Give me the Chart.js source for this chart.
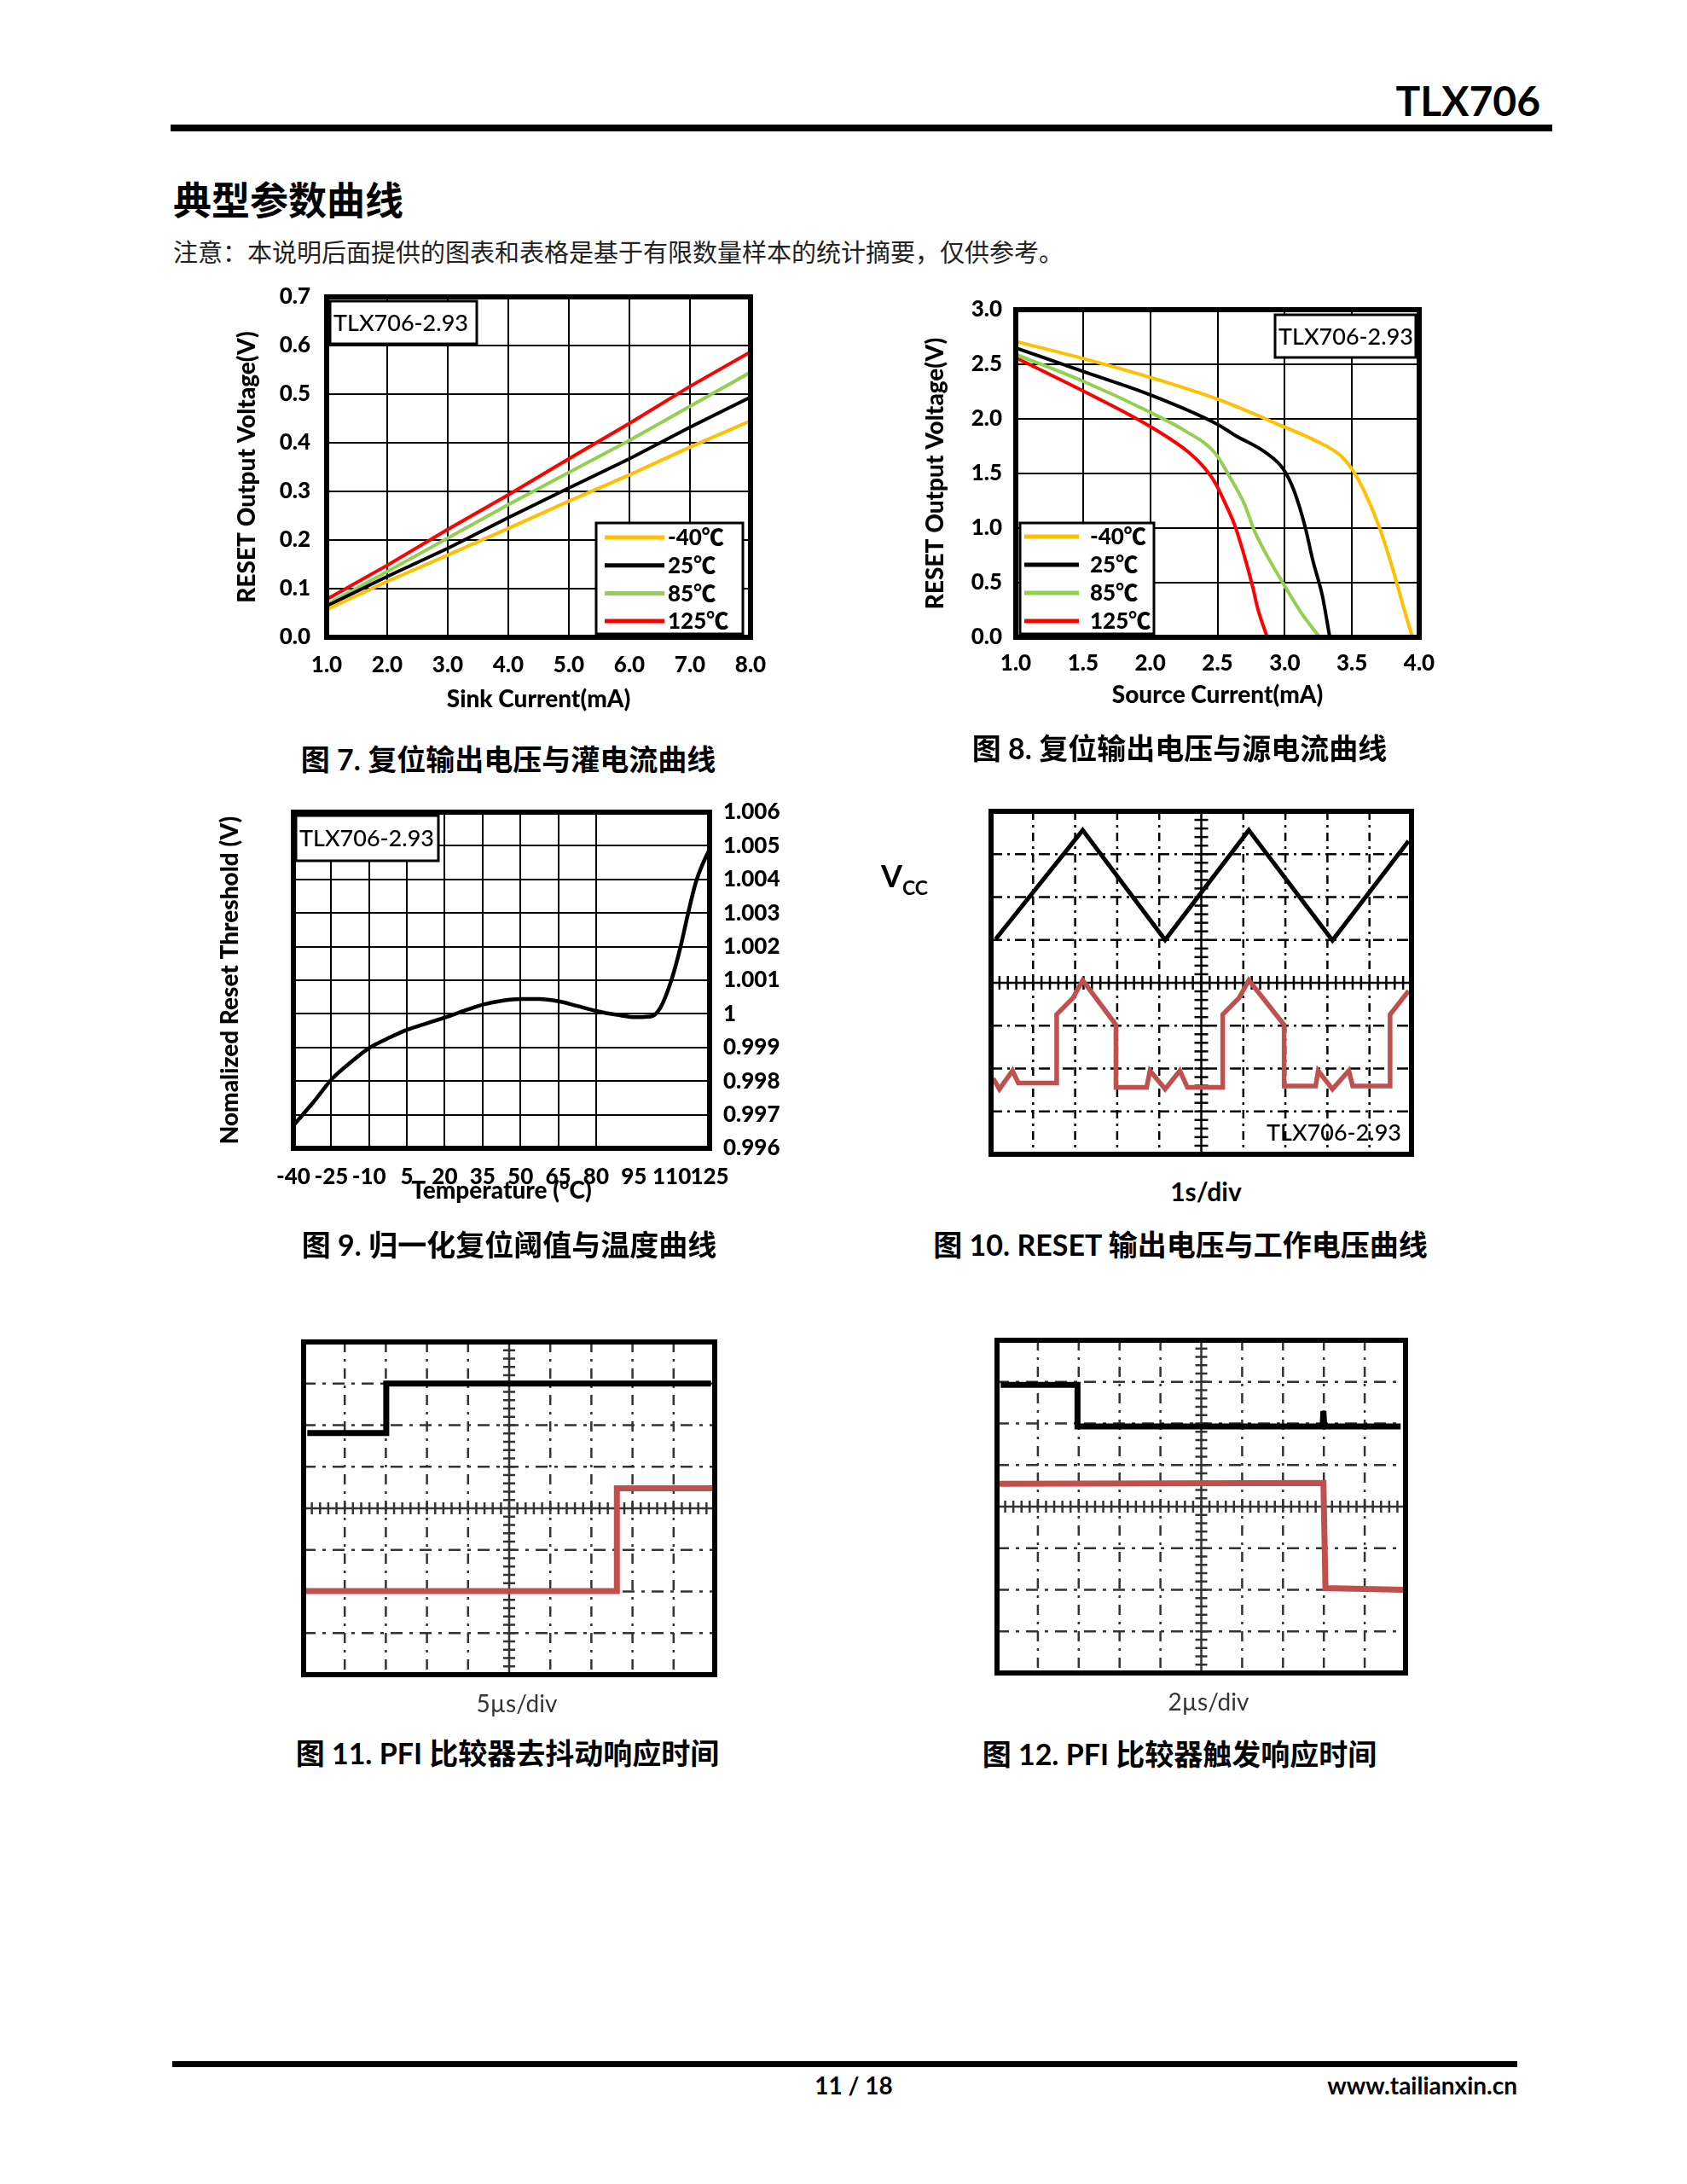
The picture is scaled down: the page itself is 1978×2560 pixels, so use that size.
<!DOCTYPE html>
<html lang="zh-CN">
<head>
<meta charset="utf-8">
<title>TLX706 典型参数曲线</title>
<script src="https://cdn.jsdelivr.net/npm/chart.js@4.4.1/dist/chart.umd.min.js"></script>
<style>
  html, body { margin: 0; padding: 0; background: #fff; }
  body { width: 1978px; height: 2560px; position: relative; overflow: hidden;
         font-family: Lato, "Noto Sans CJK SC", sans-serif; color: #000; }
  canvas { position: absolute; }
  .t { position: absolute; white-space: nowrap; line-height: 1; }
  .c { transform: translateX(-50%); }
  .rule { position: absolute; background: #000; }
  .cap { font-weight: 700; font-size: 34px; }
</style>
</head>
<body>

<div class="t" style="right:172px; top:94px; font-size:48px; font-weight:700;">TLX706</div>
<div class="rule" style="left:200px; top:146px; width:1620px; height:8px;"></div>
<div class="t" style="left:203px; top:210px; font-size:45px; font-weight:700; font-family:'Noto Sans CJK SC';">典型参数曲线</div>
<div class="t" style="left:203px; top:280px; font-size:29px; color:#222; font-family:'Noto Sans CJK SC';">注意：本说明后面提供的图表和表格是基于有限数量样本的统计摘要，仅供参考。</div>

<canvas id="sinkChart" width="680" height="540" style="left:240px; top:320px;"></canvas>
<canvas id="sourceChart" width="680" height="530" style="left:1040px; top:330px;"></canvas>
<div class="t c cap" style="left:596px; top:873px;">图 7. 复位输出电压与灌电流曲线</div>
<div class="t c cap" style="left:1383px; top:860px;">图 8. 复位输出电压与源电流曲线</div>

<canvas id="threshChart" width="700" height="520" style="left:240px; top:920px;"></canvas>
<canvas id="vccChart" width="700" height="440" style="left:1000px; top:920px;"></canvas>
<div class="t" style="left:1033px; top:1008px; font-size:36px; font-weight:700;">V<span style="font-size:23px; position:relative; top:9px;">CC</span></div>
<div class="t c" style="left:1414px; top:1381px; font-size:30px; font-weight:700;">1s/div</div>
<div class="t c cap" style="left:597px; top:1442px;">图 9. 归一化复位阈值与温度曲线</div>
<div class="t c cap" style="left:1384px; top:1442px;">图 10. RESET 输出电压与工作电压曲线</div>

<canvas id="debounceChart" width="540" height="430" style="left:330px; top:1550px;"></canvas>
<canvas id="triggerChart" width="540" height="430" style="left:1140px; top:1550px;"></canvas>
<div class="t c" style="left:606px; top:1982px; font-size:28px; color:#333;">5µs/div</div>
<div class="t c" style="left:1417px; top:1980px; font-size:28px; color:#333;">2µs/div</div>
<div class="t c cap" style="left:595px; top:2038px;">图 11. PFI 比较器去抖动响应时间</div>
<div class="t c cap" style="left:1383px; top:2039px;">图 12. PFI 比较器触发响应时间</div>

<div class="rule" style="left:202px; top:2416px; width:1577px; height:7px;"></div>
<div class="t c" style="left:1001px; top:2430px; font-size:28px; font-weight:700;">11 / 18</div>
<div class="t" style="right:199px; top:2430px; font-size:28px; font-weight:700;">www.tailianxin.cn</div>

<script>
// ---- Fig 7: sink current ----
const sinkCurrent = [1.0, 2.0, 3.0, 4.0, 5.0, 6.0, 7.0, 8.0];
const sinkM40 = [0.057, 0.115, 0.169, 0.224, 0.280, 0.334, 0.391, 0.445];
const sink25 = [0.064, 0.125, 0.183, 0.246, 0.307, 0.367, 0.432, 0.494];
const sink85 = [0.067, 0.135, 0.204, 0.273, 0.339, 0.405, 0.475, 0.545];
const sink125 = [0.078, 0.148, 0.222, 0.293, 0.367, 0.440, 0.516, 0.587];

// ---- Fig 8: source current ----
const srcM40X = [1.0, 1.51, 2.0, 2.5, 2.99, 3.23, 3.41, 3.5, 3.59, 3.70, 3.80, 3.88, 3.95];
const srcM40Y = [2.71, 2.55, 2.38, 2.18, 1.93, 1.80, 1.67, 1.54, 1.34, 1.02, 0.64, 0.29, 0.0];
const src25X = [1.0, 1.51, 2.0, 2.5, 2.63, 2.86, 2.99, 3.07, 3.15, 3.21, 3.28, 3.335];
const src25Y = [2.65, 2.43, 2.22, 1.95, 1.85, 1.69, 1.54, 1.34, 1.02, 0.70, 0.38, 0.0];
const src85X = [1.0, 1.51, 2.0, 2.26, 2.48, 2.60, 2.70, 2.78, 2.89, 2.99, 3.12, 3.26];
const src85Y = [2.59, 2.34, 2.06, 1.89, 1.69, 1.45, 1.22, 0.96, 0.70, 0.49, 0.23, 0.0];
const src125X = [1.0, 1.51, 2.0, 2.29, 2.39, 2.48, 2.56, 2.63, 2.71, 2.76, 2.80, 2.87];
const src125Y = [2.56, 2.25, 1.93, 1.69, 1.57, 1.42, 1.22, 1.02, 0.70, 0.47, 0.26, 0.0];
const tempLegend = ['-40℃', '25℃', '85℃', '125℃'];

// ---- Fig 9: normalized threshold vs temperature ----
const tempC = [-40, -32.3, -24.5, -16.9, -9.8, -1.4, 5.2, 13.3, 20.4, 28, 35.4, 42.8, 50.1, 57.5,
  65.2, 72.2, 80.3, 88.4, 95.8, 101.7, 105.4, 109.8, 113.5, 116.5, 119.5, 122.5, 125];
const threshold = [0.99668, 0.99735, 0.99808, 0.99858, 0.99899, 0.99931, 0.99953, 0.99973, 0.9999,
  1.0001, 1.00028, 1.00039, 1.00044, 1.00044, 1.00037, 1.00024, 1.00008, 0.99997, 0.9999,
  0.99992, 1.00017, 1.00099, 1.0020, 1.0030, 1.0039, 1.0045, 1.0049];
const hiddenTempGrid = [95, 110];

// ---- Fig 10: scope, 1s/div (x and y in divisions) ----
const vccX = [0.11, 2.18, 4.14, 6.13, 8.12, 9.93];
const vccY = [1.02, 3.56, 1.00, 3.56, 0.99, 3.31];
const rstX = [0.05, 0.20, 0.51, 0.65, 1.56, 1.56, 1.95, 2.18, 2.97, 2.97, 3.70, 3.78, 4.14, 4.49, 4.67,
  5.51, 5.51, 5.90, 6.13, 6.97, 6.97, 7.72, 7.78, 8.12, 8.51, 8.60, 9.49, 9.49, 9.93];
const rstY = [-2.23, -2.48, -2.05, -2.34, -2.34, -0.74, -0.35, 0.06, -0.98, -2.44, -2.44, -2.05, -2.48, -2.05, -2.44,
  -2.44, -0.74, -0.35, 0.06, -0.98, -2.41, -2.41, -2.05, -2.48, -2.05, -2.41, -2.41, -0.74, -0.19];

// ---- Fig 11: PFI debounce, 5us/div ----
const in11X = [0.09, 2.01, 2.01, 9.91];
const in11Y = [1.81, 1.81, 3.00, 3.00];
const out11X = [0.05, 7.62, 7.62, 9.95];
const out11Y = [-1.99, -1.99, 0.48, 0.48];

// ---- Fig 12: PFI trigger, 2us/div ----
const in12X = [0.09, 1.97, 1.97, 7.97, 7.99, 8.01, 9.88];
const in12Y = [2.93, 2.93, 1.93, 1.93, 2.30, 1.93, 1.93];
const out12X = [0.06, 7.99, 8.04, 9.95];
const out12Y = [0.55, 0.57, -1.96, -2.00];

const ORANGE = '#FFC000', GREEN = '#92D050', RED = '#FF0000', SCOPE_RED = '#C0504D';
const FONT = "Lato, 'Noto Sans CJK SC', sans-serif";
const HEAVY = 900;

Chart.defaults.font.family = FONT;
Chart.defaults.color = '#000';
Chart.defaults.animation = false;

const pts = (xs, ys) => xs.map((x, i) => ({ x, y: ys[i] }));
const fixW = w => s => { s.width = w; s.paddingTop = 0; s.paddingBottom = 0; };
const fixH = h => s => { s.height = h; s.paddingLeft = 0; s.paddingRight = 0; };

// thick box round the plot area
const framePlugin = {
  id: 'frame',
  afterDatasetsDraw(chart, args, opts) {
    const { ctx, chartArea: a } = chart;
    ctx.save();
    ctx.lineWidth = opts.width || 6;
    ctx.strokeStyle = opts.color || '#000';
    ctx.strokeRect(a.left, a.top, a.right - a.left, a.bottom - a.top);
    ctx.restore();
  }
};

// part number label, optionally boxed
const notePlugin = {
  id: 'note',
  afterDraw(chart, args, o) {
    if (!o.text) return;
    const { ctx, chartArea: a } = chart;
    const x0 = o.fromRight ? a.right - o.dx - o.w : a.left + o.dx;
    const y0 = o.fromBottom ? a.bottom - o.dy - o.h : a.top + o.dy;
    ctx.save();
    if (o.box) {
      ctx.fillStyle = '#fff';
      ctx.fillRect(x0, y0, o.w, o.h);
      ctx.lineWidth = 3;
      ctx.strokeStyle = '#000';
      ctx.strokeRect(x0, y0, o.w, o.h);
    }
    ctx.fillStyle = '#000';
    ctx.font = '500 ' + (o.size || 27) + 'px ' + FONT;
    ctx.textBaseline = 'middle';
    ctx.textAlign = o.align || 'left';
    const tx = o.align === 'right' ? x0 + o.w - 4 : x0 + 4;
    ctx.fillText(o.text, tx, y0 + o.h / 2 + 1);
    ctx.restore();
  }
};

// boxed legend inside the plot
const legendBoxPlugin = {
  id: 'legendBox',
  afterDraw(chart, args, o) {
    if (!o.w) return;
    const { ctx, chartArea: a } = chart;
    const x0 = o.fromRight ? a.right - o.dx - o.w : a.left + o.dx;
    const y0 = a.bottom - o.dy - o.h;
    ctx.save();
    ctx.fillStyle = '#fff';
    ctx.fillRect(x0, y0, o.w, o.h);
    ctx.lineWidth = 3;
    ctx.strokeStyle = '#000';
    ctx.strokeRect(x0, y0, o.w, o.h);
    ctx.font = HEAVY + ' 26px ' + FONT;
    ctx.textBaseline = 'middle';
    chart.data.datasets.forEach((ds, i) => {
      const yy = y0 + o.first + i * o.step;
      ctx.strokeStyle = ds.borderColor;
      ctx.lineWidth = 5;
      ctx.beginPath();
      ctx.moveTo(x0 + o.lineX, yy);
      ctx.lineTo(x0 + o.lineX + o.lineLen, yy);
      ctx.stroke();
      ctx.fillStyle = '#000';
      ctx.fillText(ds.label, x0 + o.textX, yy + 1);
    });
    ctx.restore();
  }
};

// oscilloscope graticule: 10 x 8 divisions, centre cross with minor ticks
const scopePlugin = {
  id: 'scope',
  beforeDatasetsDraw(chart, args, o) {
    const { ctx, chartArea: a, scales: { x, y } } = chart;
    const seg = (x1, y1, x2, y2) => { ctx.beginPath(); ctx.moveTo(x1, y1); ctx.lineTo(x2, y2); ctx.stroke(); };
    ctx.save();
    ctx.strokeStyle = o.color;
    ctx.lineWidth = o.lineWidth;
    ctx.setLineDash(o.vDash);
    for (let i = 1; i < 10; i++) {
      if (i === 5) continue;
      const px = x.getPixelForValue(i);
      seg(px, a.top, px, a.bottom);
    }
    ctx.setLineDash(o.hDash);
    for (let j = -3; j <= 3; j++) {
      if (j === 0) continue;
      const py = y.getPixelForValue(j);
      seg(a.left, py, a.right, py);
    }
    ctx.setLineDash([]);
    const cx = x.getPixelForValue(5), cy = y.getPixelForValue(0);
    seg(cx, a.top, cx, a.bottom);
    seg(a.left, cy, a.right, cy);
    const t = o.tick;
    for (let k = 1; k < 50; k++) {
      const px = x.getPixelForValue(k / 5);
      seg(px, cy - t, px, cy + t);
    }
    for (let k = 1; k < 40; k++) {
      const py = y.getPixelForValue(-4 + k / 5);
      seg(cx - t, py, cx + t, py);
    }
    ctx.restore();
  }
};

const tickFont = { size: 26, weight: HEAVY };
const titleFont = { size: 28, weight: HEAVY };

function lineSet(label, xs, ys, color, width, smooth) {
  return {
    label, data: pts(xs, ys), borderColor: color, backgroundColor: color,
    borderWidth: width, pointRadius: 0, fill: false,
    cubicInterpolationMode: smooth ? 'monotone' : 'default', tension: 0
  };
}

const charts = [];

// Fig 7
charts.push(new Chart(document.getElementById('sinkChart'), {
  type: 'line',
  data: {
    datasets: [
      lineSet(tempLegend[0], sinkCurrent, sinkM40, ORANGE, 4),
      lineSet(tempLegend[1], sinkCurrent, sink25, '#000', 4),
      lineSet(tempLegend[2], sinkCurrent, sink85, GREEN, 4),
      lineSet(tempLegend[3], sinkCurrent, sink125, RED, 4)
    ]
  },
  options: {
    responsive: false,
    layout: { padding: { left: 0, top: 28, right: 40, bottom: 0 } },
    plugins: {
      legend: { display: false }, tooltip: { enabled: false },
      frame: { width: 6 },
      note: { text: 'TLX706-2.93', box: true, dx: 4, dy: 5, w: 172, h: 50 },
      legendBox: { fromRight: true, dx: 9, dy: 4, w: 172, h: 130, first: 17, step: 32.7, lineX: 10, lineLen: 70, textX: 84 }
    },
    scales: {
      x: {
        type: 'linear', min: 1, max: 8, afterFit: fixH(113),
        ticks: { stepSize: 1, padding: 17, font: tickFont, maxRotation: 0, callback: v => v.toFixed(1) },
        grid: { color: '#000', lineWidth: 2, drawTicks: false }, border: { display: false },
        title: { display: true, text: 'Sink Current(mA)', font: titleFont, padding: { top: 0, bottom: 23 } }
      },
      y: {
        min: 0, max: 0.7, afterFit: fixW(143),
        ticks: { stepSize: 0.1, padding: 19, font: tickFont, callback: v => v.toFixed(1) },
        grid: { color: '#000', lineWidth: 2, drawTicks: false }, border: { display: false },
        title: { display: true, text: 'RESET Output Voltage(V)', font: titleFont, padding: { top: 33, bottom: 0 } }
      }
    }
  },
  plugins: [framePlugin, notePlugin, legendBoxPlugin]
}));

// Fig 8
charts.push(new Chart(document.getElementById('sourceChart'), {
  type: 'line',
  data: {
    datasets: [
      lineSet(tempLegend[0], srcM40X, srcM40Y, ORANGE, 4, true),
      lineSet(tempLegend[1], src25X, src25Y, '#000', 4, true),
      lineSet(tempLegend[2], src85X, src85Y, GREEN, 4, true),
      lineSet(tempLegend[3], src125X, src125Y, RED, 4, true)
    ]
  },
  options: {
    responsive: false,
    layout: { padding: { left: 0, top: 33, right: 56, bottom: 0 } },
    plugins: {
      legend: { display: false }, tooltip: { enabled: false },
      frame: { width: 6 },
      note: { text: 'TLX706-2.93', box: true, fromRight: true, dx: 4, dy: 6, w: 165, h: 50 },
      legendBox: { dx: 5, dy: 4, w: 157, h: 130, first: 16, step: 33, lineX: 5, lineLen: 64, textX: 82 }
    },
    scales: {
      x: {
        type: 'linear', min: 1, max: 4, afterFit: fixH(113),
        ticks: { stepSize: 0.5, padding: 15, font: tickFont, maxRotation: 0, callback: v => v.toFixed(1) },
        grid: { color: '#000', lineWidth: 2, drawTicks: false }, border: { display: false },
        title: { display: true, text: 'Source Current(mA)', font: titleFont, padding: { top: 0, bottom: 28 } }
      },
      y: {
        min: 0, max: 3, afterFit: fixW(151),
        ticks: { stepSize: 0.5, padding: 16, font: tickFont, callback: v => v.toFixed(1) },
        grid: { color: '#000', lineWidth: 2, drawTicks: false }, border: { display: false },
        title: { display: true, text: 'RESET Output Voltage(V)', font: titleFont, padding: { top: 40, bottom: 0 } }
      }
    }
  },
  plugins: [framePlugin, notePlugin, legendBoxPlugin]
}));

// Fig 9
charts.push(new Chart(document.getElementById('threshChart'), {
  type: 'line',
  data: { datasets: [Object.assign(lineSet('25℃', tempC, threshold, '#000', 4.5, true), { yAxisID: 'y' })] },
  options: {
    responsive: false,
    layout: { padding: { left: 0, top: 32, right: 0, bottom: 0 } },
    plugins: {
      legend: { display: false }, tooltip: { enabled: false },
      frame: { width: 6 },
      note: { text: 'TLX706-2.93', box: true, dx: 3, dy: 4, w: 167, h: 53 }
    },
    scales: {
      x: {
        type: 'linear', min: -40, max: 125, afterFit: fixH(94),
        ticks: { stepSize: 15, padding: 18, font: tickFont, maxRotation: 0, minRotation: 0, autoSkip: false,
                 callback: v => String(Math.round(v)) },
        grid: { color: c => (c.tick && hiddenTempGrid.includes(Math.round(c.tick.value))) ? 'rgba(0,0,0,0)' : '#000',
                lineWidth: 2, drawTicks: false },
        border: { display: false },
        title: { display: true, text: 'Temperature (°C)', font: titleFont, padding: { top: 0, bottom: 27 } }
      },
      y: {
        position: 'right', min: 0.996, max: 1.006, afterFit: fixW(108),
        ticks: { stepSize: 0.001, padding: 16, font: tickFont, callback: v => String(parseFloat(v.toFixed(3))) },
        grid: { color: '#000', lineWidth: 2, drawTicks: false }, border: { display: false }
      },
      yTitle: {
        position: 'left', afterFit: fixW(104),
        ticks: { display: false }, grid: { display: false, drawTicks: false }, border: { display: false },
        title: { display: true, text: 'Nomalized Reset Threshold (V)', font: titleFont, padding: { top: 13, bottom: 0 } }
      }
    }
  },
  plugins: [framePlugin, notePlugin]
}));

function scopeChart(id, pad, sets, scope, note) {
  return new Chart(document.getElementById(id), {
    type: 'line',
    data: { datasets: sets },
    options: {
      responsive: false,
      layout: { padding: pad },
      plugins: {
        legend: { display: false }, tooltip: { enabled: false },
        frame: { width: 6 }, scope, note: note || {}
      },
      scales: {
        x: { type: 'linear', min: 0, max: 10, display: false },
        y: { min: -4, max: 4, display: false }
      }
    },
    plugins: [scopePlugin, framePlugin, notePlugin]
  });
}

// Fig 10
charts.push(scopeChart('vccChart', { left: 162, top: 31, right: 45, bottom: 7 }, [
  lineSet('VCC', vccX, vccY, '#000', 5),
  lineSet('RESET', rstX, rstY, SCOPE_RED, 5.5)
], { color: '#000', lineWidth: 2.5, vDash: [10, 6, 3, 6], hDash: [13, 6, 3, 6], tick: 8 },
   { text: 'TLX706-2.93', box: false, align: 'right', fromRight: true, fromBottom: true, dx: 8, dy: 10, w: 160, h: 32 }));

// Fig 11
charts.push(scopeChart('debounceChart', { left: 26, top: 23, right: 32, bottom: 17 }, [
  lineSet('PFI', in11X, in11Y, '#000', 7),
  lineSet('PFO', out11X, out11Y, SCOPE_RED, 7)
], { color: '#333', lineWidth: 2.5, vDash: [12, 8, 3, 8], hDash: [14, 8, 4, 8], tick: 7 }));

// Fig 12
charts.push(scopeChart('triggerChart', { left: 29, top: 21, right: 32, bottom: 19 }, [
  lineSet('PFI', in12X, in12Y, '#000', 7),
  lineSet('PFO', out12X, out12Y, SCOPE_RED, 7)
], { color: '#333', lineWidth: 2.5, vDash: [12, 8, 3, 8], hDash: [14, 8, 4, 8], tick: 7 }));

// redraw once the heavy face is surely available to the canvases
document.fonts.load(HEAVY + " 26px Lato").then(() => charts.forEach(c => c.update()));
</script>
</body>
</html>
